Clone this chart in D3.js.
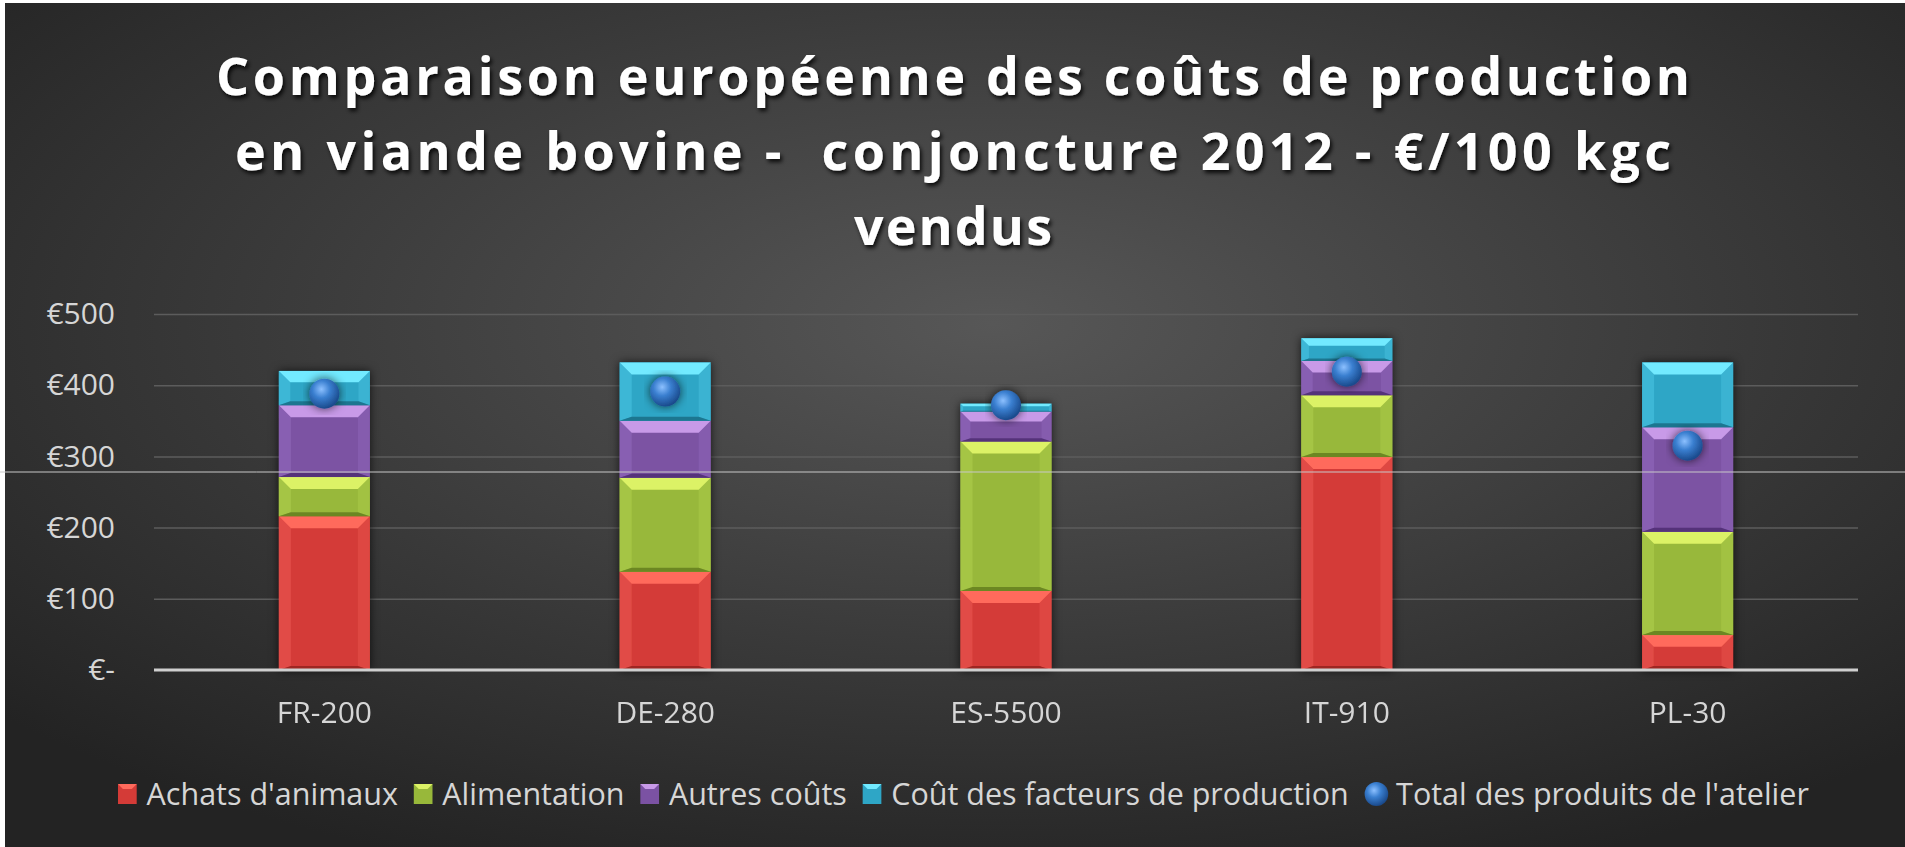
<!DOCTYPE html>
<html>
<head>
<meta charset="utf-8">
<script src="https://cdn.jsdelivr.net/npm/d3@7"></script>
<style>
  html, body { margin: 0; padding: 0; background: #ffffff; }
  svg { display: block; }
  text { font-family: "Open Sans", "DejaVu Sans", sans-serif; }
</style>
</head>
<body>
<div id="chart"></div>
<script>
// categories (farms) and series values, €/100 kgc
const categories = ["FR-200", "DE-280", "ES-5500", "IT-910", "PL-30"];
const achatsAnimaux = [216, 138, 111, 299, 49];
const alimentation = [55, 132, 210, 87, 145];
const autresCouts = [101, 80, 42, 48, 147];
const facteursProduction = [48, 82, 11, 32, 91];
const totalProduits = [388, 391, 372, 419, 315];

const seriesNames = ["Achats d'animaux", "Alimentation", "Autres coûts", "Coût des facteurs de production"];
const lineName = "Total des produits de l'atelier";
const yTicks = [0, 100, 200, 300, 400, 500];
const titleLines = ["Comparaison européenne des coûts de production",
                    "en viande bovine -  conjoncture 2012 - €/100 kgc",
                    "vendus"];

function get_chart_settings() {
    let width = 1905;
    let height = 847;
    let margin = {left: 154, right: 47, top: 314, bottom: 177};
    // base, top bevel, side bevel colours per series
    let colors = [
        {base: "#d43b37", light: "#ff6a5c", side: "#e4504a", dark: "#9e2622"},
        {base: "#98b83a", light: "#dcf266", side: "#a9c848", dark: "#6c8724"},
        {base: "#7b52a3", light: "#c89ae8", side: "#8c63b5", dark: "#54337a"},
        {base: "#2ea6c6", light: "#72eaff", side: "#42bcda", dark: "#1c7690"}
    ];
    return [width, height, margin, colors];
}
let [width, height, margin, colors] = get_chart_settings();

let svg = d3.select("#chart").append("svg")
    .attr("width", width).attr("height", height);

let defs = svg.append("defs");

/* background: dark radial gradient, lighter in the middle */
let bg = defs.append("radialGradient").attr("id", "bg")
    .attr("cx", "52%").attr("cy", "38%").attr("r", "70%");
bg.append("stop").attr("offset", "0%").attr("stop-color", "#575757");
bg.append("stop").attr("offset", "55%").attr("stop-color", "#3a3a3a");
bg.append("stop").attr("offset", "100%").attr("stop-color", "#232323");

let ball = defs.append("radialGradient").attr("id", "ball")
    .attr("cx", "40%").attr("cy", "35%").attr("r", "65%");
ball.append("stop").attr("offset", "0%").attr("stop-color", "#8cc0ff");
ball.append("stop").attr("offset", "45%").attr("stop-color", "#3a7fd0");
ball.append("stop").attr("offset", "100%").attr("stop-color", "#1a4a8c");

let shadow = defs.append("filter").attr("id", "shadow")
    .attr("x", "-20%").attr("y", "-20%").attr("width", "140%").attr("height", "140%");
shadow.append("feDropShadow").attr("dx", 0).attr("dy", 0)
    .attr("stdDeviation", 5).attr("flood-color", "#000").attr("flood-opacity", 0.7);

let textShadow = defs.append("filter").attr("id", "tshadow")
    .attr("x", "-5%").attr("y", "-30%").attr("width", "110%").attr("height", "160%");
textShadow.append("feDropShadow").attr("dx", 2).attr("dy", 3)
    .attr("stdDeviation", 2).attr("flood-color", "#000").attr("flood-opacity", 0.85);

svg.append("rect").attr("x", 5).attr("y", 3)
    .attr("width", width - 5).attr("height", height - 3)
    .attr("fill", "url(#bg)");

/* title, three lines, letter-spaced */
svg.append("g").attr("filter", "url(#tshadow)")
    .selectAll("text")
    .data(titleLines)
    .enter().append("text")
    .attr("x", 953)
    .attr("y", function(d, i) { return 95 + i * 75; })
    .attr("text-anchor", "middle")
    .attr("font-family", "Lato, 'Open Sans', sans-serif")
    .attr("font-size", 52)
    .attr("font-weight", "bold")
    .attr("fill", "#ffffff")
    .style("white-space", "pre")
    .attr("textLength", function(d, i) { return [1474, 1436, 198][i]; })
    .attr("lengthAdjust", "spacing")
    .text(function(d) { return d; });

let x = d3.scaleBand().domain(categories)
    .range([margin.left, width - margin.right])
    .paddingInner(0.733).paddingOuter(0.3665);
let y = d3.scaleLinear().domain([0, 500]).range([height - margin.bottom, margin.top]);

/* y axis with gridlines */
let yAxis = d3.axisLeft(y)
    .tickValues(yTicks)
    .tickSize(-(width - margin.left - margin.right))
    .tickPadding(39)
    .tickFormat(function(d) { return d === 0 ? "€-" : "€" + d; });

let gy = svg.append("g").attr("transform", "translate(" + margin.left + ",0)").call(yAxis);
gy.select(".domain").remove();
gy.selectAll(".tick line").attr("stroke", "#5c5c5c").attr("stroke-width", 1.5)
    .filter(function(d) { return d === 0; }).remove();
gy.selectAll(".tick text").attr("font-size", 30).attr("fill", "#d6d6d6")
    .attr("font-family", "'Open Sans', sans-serif");

/* stacked bars */
let table = categories.map(function(c, i) {
    return {cat: c, s0: achatsAnimaux[i], s1: alimentation[i], s2: autresCouts[i], s3: facteursProduction[i]};
});
let stack = d3.stack().keys(["s0", "s1", "s2", "s3"])(table);

let bars = svg.append("g").attr("filter", "url(#shadow)");

stack.forEach(function(layer, k) {
    let c = colors[k];
    let seg = bars.selectAll(".seg" + k)
        .data(layer)
        .enter().append("g").attr("class", "seg" + k);
    seg.each(function(d) {
        let g = d3.select(this);
        let x0 = x(d.data.cat), x1 = x0 + x.bandwidth();
        let y0 = y(d[1]), y1 = y(d[0]);
        let h = y1 - y0;
        let b = Math.min(12, h / 3);
        g.append("rect").attr("x", x0).attr("y", y0)
            .attr("width", x1 - x0).attr("height", h).attr("fill", c.base);
        // sides
        g.append("polygon")
            .attr("points", [[x0, y0], [x0 + b, y0 + b], [x0 + b, y1 - b / 3], [x0, y1]].join(" "))
            .attr("fill", c.side).attr("opacity", 0.8);
        g.append("polygon")
            .attr("points", [[x1, y0], [x1 - b, y0 + b], [x1 - b, y1 - b / 3], [x1, y1]].join(" "))
            .attr("fill", c.side).attr("opacity", 0.6);
        // bottom
        g.append("polygon")
            .attr("points", [[x0, y1], [x0 + b, y1 - b / 3], [x1 - b, y1 - b / 3], [x1, y1]].join(" "))
            .attr("fill", c.dark);
        // top highlight
        g.append("polygon")
            .attr("points", [[x0, y0], [x1, y0], [x1 - b, y0 + b], [x0 + b, y0 + b]].join(" "))
            .attr("fill", c.light);
    });
});

/* baseline */
svg.append("line")
    .attr("x1", margin.left).attr("x2", width - margin.right)
    .attr("y1", y(0)).attr("y2", y(0))
    .attr("stroke", "#cfcfcf").attr("stroke-width", 3);

/* total of workshop products: balls */
svg.selectAll(".ball")
    .data(totalProduits)
    .enter().append("circle")
    .attr("class", "ball")
    .attr("cx", function(d, i) { return x(categories[i]) + x.bandwidth() / 2; })
    .attr("cy", function(d) { return y(d); })
    .attr("r", 15)
    .attr("fill", "url(#ball)")
    .attr("filter", "url(#shadow)");

/* x axis labels */
let xAxis = d3.axisBottom(x).tickSize(0).tickPadding(32);
let gx = svg.append("g").attr("transform", "translate(0," + y(0) + ")").call(xAxis);
gx.select(".domain").remove();
gx.selectAll(".tick text").attr("font-size", 30).attr("fill", "#d6d6d6")
    .attr("font-family", "'Open Sans', sans-serif");

/* legend */
let legend = svg.append("g");
let items = seriesNames.map(function(n, i) { return {name: n, color: colors[i].base, light: colors[i].light}; });
items.push({name: lineName, ball: true});
let pos = 0;
items.forEach(function(it) {
    let g = legend.append("g").attr("transform", "translate(" + pos + ",0)");
    if (it.ball) {
        g.append("circle").attr("cx", 12).attr("cy", -11).attr("r", 12).attr("fill", "url(#ball)");
        pos += 30;
    } else {
        g.append("rect").attr("x", 0).attr("y", -21).attr("width", 19).attr("height", 20).attr("fill", it.color);
        g.append("polygon").attr("points", "0,-21 19,-21 14,-16 5,-16").attr("fill", it.light);
        pos += 29;
    }
    let t = g.append("text").attr("x", it.ball ? 32 : 29).attr("y", 0)
        .attr("font-size", 31).attr("fill", "#d6d6d6")
        .text(it.name);
    pos += t.node().getComputedTextLength() + 16;
});
let total = pos - 16;
let sx = 1689 / total;
legend.attr("transform", "translate(118,805) scale(" + sx + ",1)");

/* thin light scan line across the picture */
svg.append("line").attr("x1", 0).attr("x2", width).attr("y1", 472).attr("y2", 472)
    .attr("stroke", "#c8c8c8").attr("stroke-width", 1);
</script>
</body>
</html>
